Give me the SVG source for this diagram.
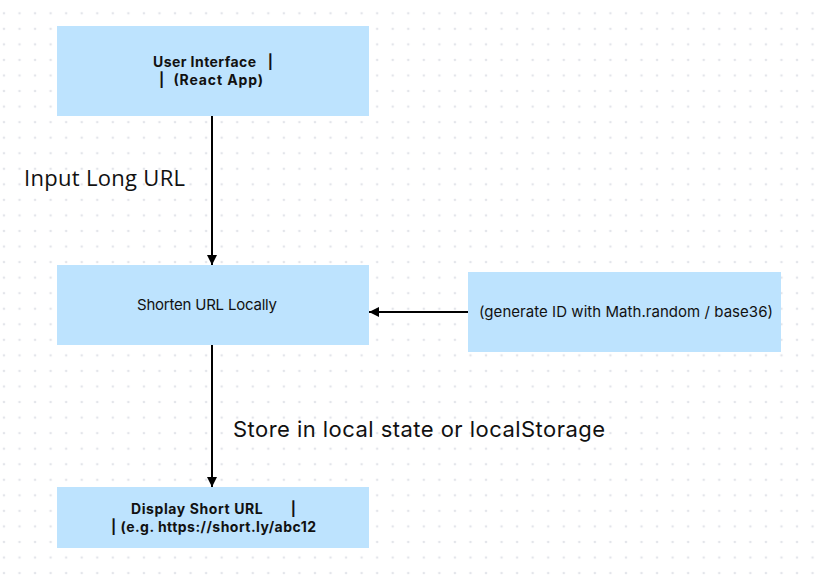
<svg xmlns="http://www.w3.org/2000/svg" width="826" height="580" viewBox="0 0 826 580">
<defs>
<pattern id="dots" x="-3.8" y="5.5" width="15.55" height="15.55" patternUnits="userSpaceOnUse">
<circle cx="7.775" cy="7.775" r="1.3" fill="#e3e5ea"/>
</pattern>
<marker id="ah" viewBox="0 0 10 10" refX="10" refY="5" markerWidth="5" markerHeight="5" orient="auto" markerUnits="strokeWidth">
<path d="M0,0 L10,5 L0,10 z" fill="#000"/>
</marker>
<style>
.box{fill:#bde3fe;}
.bt{font-family:Inter,"DejaVu Sans",sans-serif;font-size:14px;font-weight:700;fill:#111;}
.nt{font-family:Inter,"DejaVu Sans",sans-serif;font-size:15px;fill:#111;}
.lbl{font-family:Inter,"DejaVu Sans",sans-serif;font-size:22px;fill:#111;}
.lbl2{font-family:"Open Sans","Noto Sans",sans-serif;font-size:22px;fill:#111;}
.edge{stroke:#000;stroke-width:2;fill:none;marker-end:url(#ah);}
</style>
</defs>
<rect width="826" height="580" fill="#ffffff"/>
<rect width="826" height="580" fill="url(#dots)"/>
<g id="connectors">
<line class="edge" x1="212" y1="116" x2="212" y2="265"/>
<line class="edge" x1="212" y1="345" x2="212" y2="487"/>
<line class="edge" x1="468" y1="312" x2="369" y2="312"/>
</g>
<g id="node-ui">
<rect class="box" x="57" y="26" width="312" height="90"/>
<text class="bt" x="153" y="67" textLength="120" xml:space="preserve">User Interface   |</text>
<text class="bt" x="159" y="85" textLength="104" xml:space="preserve">|  (React App)</text>
</g>
<g id="node-shorten">
<rect class="box" x="57" y="265" width="312" height="80"/>
<text class="nt" x="137" y="310" textLength="140">Shorten URL Locally</text>
</g>
<g id="node-generate">
<rect class="box" x="468" y="272" width="313" height="80"/>
<text class="nt" x="479" y="317" textLength="294">(generate ID with Math.random / base36)</text>
</g>
<g id="node-display">
<rect class="box" x="57" y="487" width="312" height="61"/>
<text class="bt" x="131" y="514" textLength="165" xml:space="preserve">Display Short URL       |</text>
<text class="bt" x="111" y="532" textLength="205">| (e.g. https://short.ly/abc12</text>
</g>
<g id="labels">
<text class="lbl2" x="24" y="186" textLength="161">Input Long URL</text>
<text class="lbl" x="233" y="437" textLength="372">Store in local state or localStorage</text>
</g>
</svg>
